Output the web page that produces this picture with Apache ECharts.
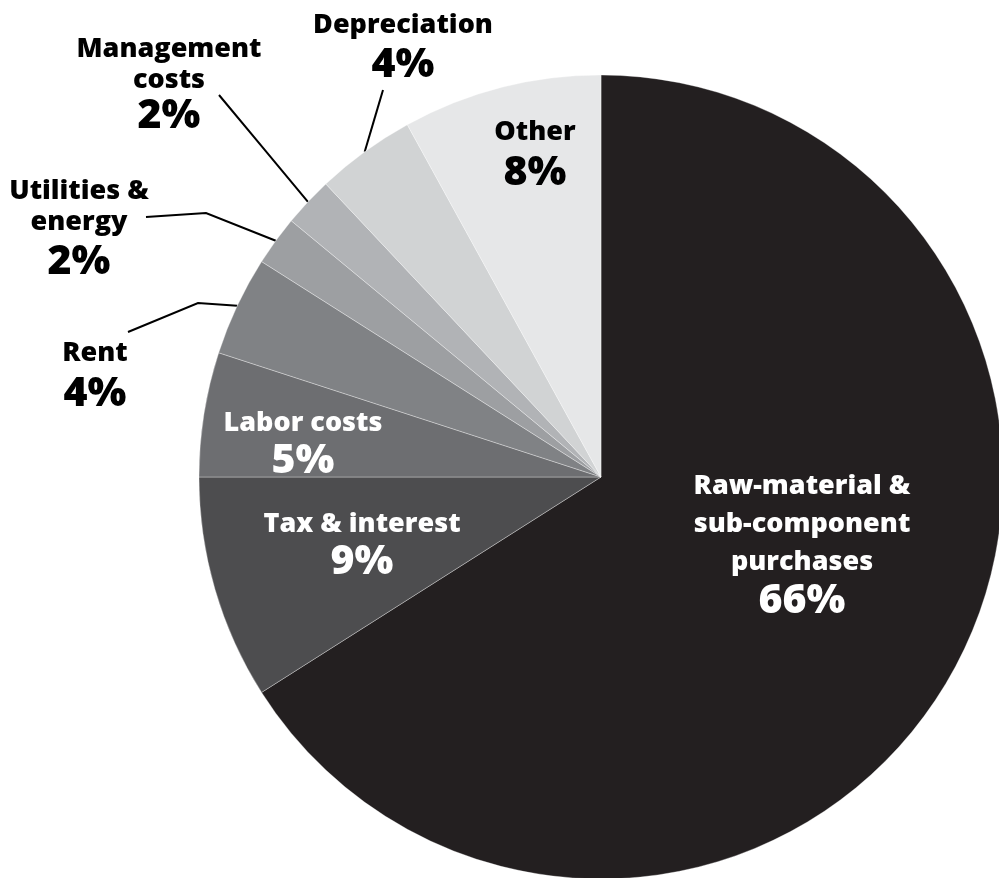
<!DOCTYPE html>
<html>
<head>
<meta charset="utf-8">
<script src="https://cdn.jsdelivr.net/npm/echarts@6/dist/echarts.min.js"></script>
<style>
  html, body { margin: 0; padding: 0; background: #ffffff; }
  #chart { width: 999px; height: 878px; }
</style>
</head>
<body>
<div id="chart"></div>
<script>
// Cost breakdown, clockwise from 12 o'clock
const categories = [
  'Raw-material & sub-component purchases',
  'Tax & interest',
  'Labor costs',
  'Rent',
  'Utilities & energy',
  'Management costs',
  'Depreciation',
  'Other'
];
const shares = [66, 9, 5, 4, 2, 2, 4, 8];
// How each category name is broken over lines in its label
const nameLines = [
  ['Raw-material &', 'sub-component', 'purchases'],
  ['Tax & interest'],
  ['Labor costs'],
  ['Rent'],
  ['Utilities &', 'energy'],
  ['Management', 'costs'],
  ['Depreciation'],
  ['Other']
];

// Styling and label placement (kept apart from the data)
const sliceColors = ['#231f20', '#4d4d4f', '#6d6e71', '#808285', '#9d9fa2', '#b1b3b6', '#d1d3d4', '#e6e7e8'];
const textColors = ['#ffffff', '#ffffff', '#ffffff', '#000000', '#000000', '#000000', '#000000', '#000000'];
// x = horizontal centre of the label, y = centre of its first text line,
// nameLH / pctLH = line heights, line = leader-line bend points after the slice edge
const labelPlacement = [
  { x: 802, y: 486, nameLH: 38, pctLH: 40 },
  { x: 362, y: 524, nameLH: 31, pctLH: 45 },
  { x: 303, y: 423, nameLH: 31, pctLH: 45 },
  { x: 95, y: 353, nameLH: 31, pctLH: 51, line: [[198, 303], [128, 332]] },
  { x: 79, y: 191, nameLH: 31, pctLH: 49, line: [[206, 213], [146, 217]] },
  { x: 169, y: 49, nameLH: 31, pctLH: 41, line: [[219, 95]] },
  { x: 403, y: 25, nameLH: 31, pctLH: 49, line: [[383, 90]] },
  { x: 535, y: 132, nameLH: 31, pctLH: 51 }
];

const FONT = '"Open Sans", "Noto Sans", sans-serif';

const seriesData = categories.map(function (name, i) {
  const pl = labelPlacement[i];
  const outside = !!pl.line;
  return {
    name: name,
    value: shares[i],
    itemStyle: { color: sliceColors[i] },
    label: {
      position: outside ? 'outside' : 'inside',
      formatter: function () {
        return nameLines[i].map(function (t) { return '{n|' + t + '}'; }).join('\n') +
          '\n{p|' + shares[i] + '%}';
      },
      rich: {
        n: { fontFamily: FONT, fontWeight: 800, fontSize: 27, lineHeight: pl.nameLH, color: textColors[i] },
        p: { fontFamily: FONT, fontWeight: 800, fontSize: 41, lineHeight: pl.pctLH, color: textColors[i] }
      }
    },
    labelLine: { show: outside }
  };
});

const chart = echarts.init(document.getElementById('chart'), null, { renderer: 'canvas' });
chart.setOption({
  backgroundColor: '#ffffff',
  animation: false,
  series: [{
    type: 'pie',
    center: [601, 477],
    radius: 402,
    startAngle: 90,
    clockwise: true,
    avoidLabelOverlap: false,
    silent: true,
    itemStyle: { borderColor: 'rgba(255,255,255,0.55)', borderWidth: 0.6 },
    label: { show: true, color: '#000000', fontFamily: FONT, fontWeight: 800 },
    labelLine: { show: true, length: 30, length2: 30, smooth: false,
      lineStyle: { color: '#000000', width: 2 } },
    labelLayout: function (params) {
      const i = params.dataIndex;
      const pl = labelPlacement[i];
      const res = {
        x: pl.x,
        y: pl.y - pl.nameLH / 2,
        align: 'center',
        verticalAlign: 'top'
      };
      if (pl.line && params.labelLinePoints) {
        const start = params.labelLinePoints[0];
        const pts = [[start[0], start[1]]].concat(pl.line);
        if (pts.length === 2) {
          pts.splice(1, 0, [(pts[0][0] + pts[1][0]) / 2, (pts[0][1] + pts[1][1]) / 2]);
        }
        res.labelLinePoints = pts;
      }
      return res;
    },
    data: seriesData
  }]
});
</script>
</body>
</html>
